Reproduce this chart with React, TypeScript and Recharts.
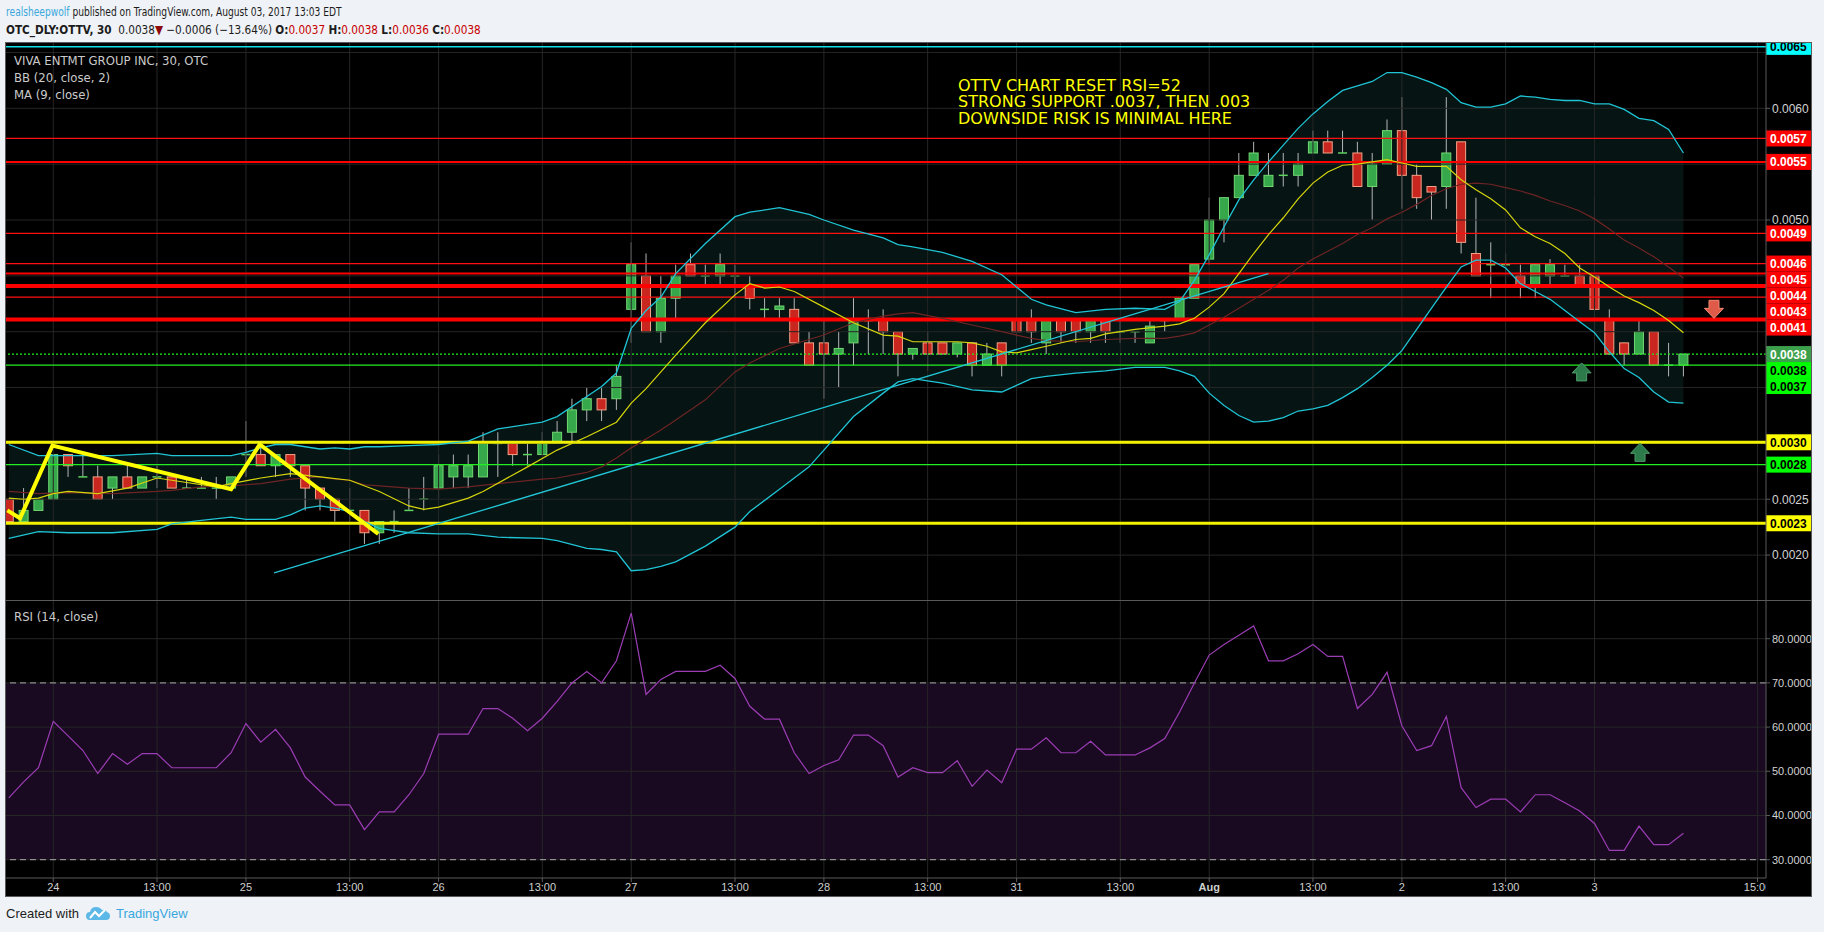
import React from 'react'
import {
  ComposedChart, Bar, Line, Area, XAxis, YAxis,
  ReferenceLine, ReferenceArea, ReferenceDot,
} from 'recharts'

// 30 min bars, Jul 21 14:30 .. Aug 3 12:30 (bar index = position on the time axis)
const opens = [
  0.0025, 0.0023, 0.0024, 0.0025, 0.0029, 0.0027, 0.0027, 0.0026, 0.0027, 0.0026,
  0.0027, 0.0027, 0.0026, 0.0026, 0.0026, 0.0026, 0.0029, 0.0029, 0.0028, 0.0029,
  0.0028, 0.0026, 0.0025, 0.0024, 0.0024, 0.0022, 0.0023, 0.0024, 0.0025, 0.0026,
  0.0027, 0.0027, 0.0027, 0.0030, 0.0030, 0.0029, 0.0029, 0.0030, 0.0031, 0.0033,
  0.0034, 0.0034, 0.0042, 0.0045, 0.0040, 0.0043, 0.0046, 0.0045, 0.0045, 0.0045,
  0.0044, 0.0042, 0.0042, 0.0042, 0.0039, 0.0039, 0.0038, 0.0039, 0.0041, 0.0041,
  0.0040, 0.0038, 0.0039, 0.0039, 0.0038, 0.0039, 0.0037, 0.0039, 0.0041, 0.0041,
  0.0039, 0.0041, 0.0041, 0.0040, 0.0041, 0.0040, 0.0040, 0.0039, 0.0041, 0.0041,
  0.0043, 0.00465, 0.0050, 0.0052, 0.0054, 0.0053, 0.0054, 0.0054, 0.0056, 0.0057,
  0.0056, 0.0056, 0.0053, 0.0055, 0.0058, 0.0054, 0.0053, 0.0053, 0.0057, 0.0047,
  0.0046, 0.0046, 0.0045, 0.0044, 0.0045, 0.0045, 0.0045, 0.0045, 0.0041, 0.0039,
  0.0038, 0.0040, 0.0037, 0.0037,
]
const highs = [
  0.0025, 0.0026, 0.0025, 0.0029, 0.0029, 0.0029, 0.0028, 0.0027, 0.0028, 0.0027,
  0.0028, 0.0027, 0.0027, 0.0027, 0.0027, 0.0027, 0.0032, 0.0030, 0.0029, 0.0029,
  0.0028, 0.0026, 0.0025, 0.0026, 0.0024, 0.0023, 0.0024, 0.0026, 0.0027, 0.0029,
  0.0029, 0.0029, 0.0031, 0.0031, 0.0030, 0.0030, 0.0031, 0.0032, 0.0034, 0.0035,
  0.0035, 0.0037, 0.0048, 0.0047, 0.0045, 0.0046, 0.0047, 0.0046, 0.0047, 0.0046,
  0.0045, 0.0043, 0.0043, 0.0043, 0.0040, 0.0041, 0.0040, 0.0043, 0.0042, 0.0042,
  0.0040, 0.00385, 0.0040, 0.0039, 0.0039, 0.0039, 0.0039, 0.0039, 0.0044, 0.0042,
  0.0041, 0.0041, 0.0041, 0.0041, 0.0041, 0.0041, 0.0040, 0.0041, 0.0041, 0.0043,
  0.0046, 0.0052, 0.0052, 0.0056, 0.0057, 0.0056, 0.0056, 0.0056, 0.0058, 0.0058,
  0.0058, 0.0057, 0.0056, 0.0059, 0.0061, 0.0055, 0.0053, 0.0061, 0.0057, 0.0052,
  0.0048, 0.0047, 0.0046, 0.0046, 0.00465, 0.0046, 0.0046, 0.0052, 0.0042, 0.0039,
  0.0041, 0.0040, 0.0039, 0.0038,
]
const lows = [
  0.0023, 0.0023, 0.0024, 0.0025, 0.0027, 0.0027, 0.0025, 0.0025, 0.0026, 0.0026,
  0.0026, 0.0026, 0.0026, 0.0026, 0.0025, 0.0026, 0.0027, 0.0028, 0.0027, 0.0027,
  0.0024, 0.0024, 0.0023, 0.0023, 0.0021, 0.0021, 0.0022, 0.0024, 0.0024, 0.0025,
  0.0026, 0.0026, 0.0027, 0.0027, 0.0028, 0.0028, 0.0029, 0.0030, 0.0030, 0.0032,
  0.0032, 0.0033, 0.0039, 0.0040, 0.0039, 0.0041, 0.0045, 0.0044, 0.0044, 0.0043,
  0.0042, 0.0041, 0.0041, 0.0039, 0.0037, 0.0034, 0.0035, 0.0037, 0.0038, 0.0038,
  0.0036, 0.00375, 0.00365, 0.0038, 0.00377, 0.0036, 0.0037, 0.0036, 0.0039, 0.0039,
  0.0038, 0.0039, 0.0039, 0.0039, 0.0039, 0.0039, 0.0039, 0.0039, 0.0040, 0.0041,
  0.0043, 0.0046, 0.0048, 0.0052, 0.0054, 0.0053, 0.0053, 0.0053, 0.0056, 0.0056,
  0.0056, 0.0053, 0.0050, 0.0055, 0.0051, 0.0051, 0.0050, 0.0051, 0.0047, 0.0045,
  0.0043, 0.0044, 0.0043, 0.0043, 0.0044, 0.0045, 0.0044, 0.0038, 0.0038, 0.0037,
  0.0038, 0.0037, 0.0036, 0.0036,
]
const closes = [
  0.0023, 0.0024, 0.0025, 0.0029, 0.0028, 0.0027, 0.0025, 0.0027, 0.0026, 0.0027,
  0.0027, 0.0026, 0.0026, 0.0026, 0.0026, 0.0027, 0.0029, 0.0028, 0.0029, 0.0028,
  0.0026, 0.0025, 0.0024, 0.0024, 0.0022, 0.0023, 0.0023, 0.0024, 0.0025, 0.0028,
  0.0028, 0.0028, 0.0030, 0.0030, 0.0029, 0.0029, 0.0030, 0.0031, 0.0033, 0.0034,
  0.0033, 0.0036, 0.0046, 0.0040, 0.0043, 0.0045, 0.0045, 0.0045, 0.0046, 0.0045,
  0.0043, 0.0042, 0.00423, 0.0039, 0.0037, 0.0038, 0.00385, 0.0041, 0.0041, 0.0040,
  0.0038, 0.00385, 0.0038, 0.0038, 0.0039, 0.0037, 0.0038, 0.0037, 0.0040, 0.0040,
  0.0041, 0.0040, 0.0040, 0.0041, 0.0040, 0.0040, 0.0040, 0.00405, 0.0041, 0.0043,
  0.0046, 0.0050, 0.0052, 0.0054, 0.0056, 0.0054, 0.0054, 0.0055, 0.0057, 0.0056,
  0.0056, 0.0053, 0.0055, 0.0058, 0.0054, 0.0052, 0.00525, 0.0056, 0.0048, 0.0045,
  0.0046, 0.0046, 0.0044, 0.0046, 0.0046, 0.0045, 0.0044, 0.0042, 0.0038, 0.0038,
  0.0040, 0.0037, 0.0037, 0.0038,
]

// RSI (14, close), one value per bar
const rsiValues = [
  44, 47.6, 50.8, 61.3, 58, 54.7, 49.5, 54, 51.6, 54,
  54, 50.8, 50.8, 50.8, 50.8, 54.2, 60.8, 56.6, 59.5, 55.3,
  48.7, 45.5, 42.4, 42.4, 36.8, 40.8, 40.8, 44.7, 49.5, 58.4,
  58.4, 58.4, 64.2, 64.2, 62, 59.2, 62, 65.8, 70, 72.6,
  70, 75, 85.8, 67.4, 70.8, 72.6, 72.6, 72.6, 74, 71,
  64.7, 61.8, 61.8, 54.2, 49.5, 51.3, 52.6, 58.2, 58.2, 55.8,
  48.7, 50.8, 49.7, 49.7, 52.4, 46.6, 50.3, 47.4, 55, 55,
  57.6, 54.2, 54.2, 56.8, 53.7, 53.7, 53.7, 55.3, 57.4, 63.4,
  70, 76.3, 78.7, 80.8, 82.9, 75, 75, 76.6, 78.7, 76,
  76, 64.2, 67.4, 72.4, 60.3, 54.7, 55.8, 62.4, 46.3, 41.8,
  43.7, 43.7, 40.8, 44.7, 44.7, 42.9, 41, 38.2, 32.1, 32.1,
  37.6, 33.4, 33.4, 36,
]

// BB (20, close, 2), read at these bars
const bbBars = [
  0, 2, 4, 7, 10, 11, 13, 15, 16, 17, 18, 19, 20, 21, 22, 23, 24, 25, 27, 29,
  31, 33, 36, 37, 39, 40, 41, 42, 43, 44, 45, 47, 49, 50, 52, 54, 55, 57, 59, 60,
  61, 63, 65, 67, 68, 69, 70, 72, 74, 76, 78, 79,
  80, 81, 82, 83, 84, 85, 86, 87, 88, 89, 90, 91, 92, 93, 94, 95, 96, 97, 98, 99,
  100, 101, 102, 103, 104, 105, 106, 107, 108, 109, 110, 111, 112, 113,
]
const bbUpper = [
  0.00299, 0.00289, 0.00289, 0.00289, 0.00291, 0.00289, 0.00289, 0.00289, 0.00292, 0.00296,
  0.00299, 0.00299, 0.00297, 0.00295, 0.00296, 0.00295, 0.00297, 0.00297, 0.00298, 0.00299,
  0.00302, 0.00313, 0.00319, 0.00324, 0.00342, 0.00351, 0.00363, 0.00403, 0.00419, 0.00431,
  0.00452, 0.00479, 0.00503, 0.00507, 0.00511, 0.00505, 0.00500, 0.00491, 0.00484, 0.00478,
  0.00476, 0.00471, 0.00463, 0.00451, 0.00440, 0.00429, 0.00424, 0.00417, 0.00420, 0.00421,
  0.00420, 0.00427,
  0.00446, 0.00469, 0.00494, 0.00518, 0.00536, 0.00552, 0.00567, 0.00582, 0.00595, 0.00606,
  0.00616, 0.00620, 0.00624, 0.00632, 0.00632, 0.00628, 0.00623, 0.00617, 0.00605, 0.00601,
  0.00601, 0.00604, 0.00611, 0.00610, 0.00608, 0.00607, 0.00607, 0.00604, 0.00604, 0.00599,
  0.00591, 0.00589, 0.00581, 0.00560,
]
const bbLower = [
  0.00215, 0.00221, 0.00220, 0.00220, 0.00223, 0.00228, 0.00231, 0.00234, 0.00232, 0.00232,
  0.00232, 0.00236, 0.00242, 0.00244, 0.00242, 0.00239, 0.00230, 0.00224, 0.00220, 0.00219,
  0.00219, 0.00216, 0.00215, 0.00213, 0.00206, 0.00205, 0.00203, 0.00186, 0.00187, 0.00190,
  0.00194, 0.00208, 0.00225, 0.00239, 0.00259, 0.00279, 0.00294, 0.00324, 0.00345, 0.00355,
  0.00358, 0.00354, 0.00348, 0.00346, 0.00352, 0.00358, 0.00360, 0.00363, 0.00365, 0.00368,
  0.00368, 0.00365,
  0.00360, 0.00345, 0.00334, 0.00325, 0.00319, 0.00320, 0.00323, 0.00329, 0.00331, 0.00334,
  0.00341, 0.00349, 0.00359, 0.00370, 0.00383, 0.00402, 0.00421, 0.00440, 0.00458, 0.00464,
  0.00464, 0.00457, 0.00443, 0.00436, 0.00429, 0.00419, 0.00409, 0.00399, 0.00382, 0.00367,
  0.00359, 0.00346, 0.00337, 0.00336,
]
const bbBasis = [
  0.00257, 0.00255, 0.00256, 0.00255, 0.00257, 0.00258, 0.00261, 0.00262, 0.00263, 0.00264,
  0.00266, 0.00268, 0.00269, 0.00270, 0.00268, 0.00267, 0.00263, 0.00262, 0.00260, 0.00259,
  0.00261, 0.00264, 0.00268, 0.00269, 0.00274, 0.00279, 0.00287, 0.00296, 0.00304, 0.00312,
  0.00321, 0.00339, 0.00364, 0.00372, 0.00385, 0.00393, 0.00397, 0.00408, 0.00414, 0.00416,
  0.00417, 0.00412, 0.00406, 0.00400, 0.00397, 0.00394, 0.00392, 0.00391, 0.00393, 0.00394,
  0.00394, 0.00396,
  0.00399, 0.00406, 0.00413, 0.00421, 0.00429, 0.00437, 0.00446, 0.00457, 0.00465, 0.00472,
  0.00479, 0.00487, 0.00493, 0.00501, 0.00507, 0.00514, 0.00522, 0.00528, 0.00532, 0.00533,
  0.00532, 0.00529, 0.00526, 0.00522, 0.00517, 0.00513, 0.00508, 0.00501, 0.00492, 0.00482,
  0.00475, 0.00467, 0.00458, 0.00448,
]

// MA (9, close)
const maBars = [
  0, 1, 2, 3, 4, 6, 8, 10, 12, 14, 15, 17, 19, 21, 23, 25, 27, 28, 29, 31,
  32, 35, 37, 39, 41, 42, 43, 45, 47, 49, 50, 51, 52, 53, 55, 57, 59, 60, 61, 64,
  65, 66, 67, 68, 69, 70, 72, 73, 74, 76, 78, 79,
  80, 81, 82, 83, 84, 85, 86, 87, 88, 89, 90, 91, 92, 93, 94, 95,
  97, 98, 99, 100, 101, 102, 103, 104, 105, 106, 107, 108, 109, 110, 111, 112, 113,
]
const maValues = [
  0.00251, 0.00250, 0.00251, 0.00255, 0.00257, 0.00255, 0.00260, 0.00269, 0.00265, 0.00261,
  0.00264, 0.00269, 0.00273, 0.00270, 0.00267, 0.00257, 0.00244, 0.00241, 0.00243, 0.00251,
  0.00257, 0.00279, 0.00294, 0.00306, 0.00319, 0.00336, 0.00349, 0.00379, 0.00408, 0.00433,
  0.00443, 0.00439, 0.00440, 0.00436, 0.00422, 0.00408, 0.00397, 0.00396, 0.00391, 0.00391,
  0.00390, 0.00387, 0.00382, 0.00381, 0.00384, 0.00387, 0.00393, 0.00394, 0.00398, 0.00402,
  0.00405, 0.00407,
  0.00412, 0.00422, 0.00434, 0.00452, 0.00470, 0.00487, 0.00502, 0.00519, 0.00533, 0.00543,
  0.00549, 0.00550, 0.00552, 0.00554, 0.00551, 0.00548,
  0.00548, 0.00536, 0.00527, 0.00519, 0.00509, 0.00493, 0.00485, 0.00479, 0.00470, 0.00457,
  0.00449, 0.00440, 0.00432, 0.00426, 0.00419, 0.00410, 0.00399,
]

// drawings on the chart
const trendBars = [17.9, 85]
const trendPrices = [0.00184, 0.00452]
const zigBars = [-0.1, 0.76, 2.94, 15.0, 16.93, 24.93]
const zigPrices = [0.0024, 0.00233, 0.00298, 0.00259, 0.00299, 0.00219]
const arrowBars = [115.06, 106.13, 110.07]
const arrowPrices = [0.0042, 0.00364, 0.00292]
const arrowDirs = ['down', 'up', 'up']
const noteBar = 64.05
const notePrice = 0.006155
const noteLines = ['OTTV CHART RESET RSI=52', 'STRONG SUPPORT .0037, THEN .003', 'DOWNSIDE RISK IS MINIMAL HERE']

// horizontal levels with their price tags
const levelPrices = [0.00655, 0.00573, 0.00552, 0.00488, 0.00461, 0.00452, 0.00441, 0.00431, 0.00411, 0.0038, 0.0038, 0.0037, 0.00301, 0.00281, 0.002285]
const levelLabels = ['0.0065', '0.0057', '0.0055', '0.0049', '0.0046', '0.0045', '0.0044', '0.0043', '0.0041', '0.0038', '0.0038', '0.0037', '0.0030', '0.0028', '0.0023']
const levelKinds = ['cyan', 'red', 'red2', 'red', 'red', 'red2', 'redBold', 'red', 'redBold', 'last', 'greenTag', 'green', 'yellow', 'green', 'yellow']

const priceGrid = [0.002, 0.0025, 0.003, 0.0035, 0.004, 0.0045, 0.005, 0.0055, 0.006, 0.0065]
const priceTicks = [0.002, 0.0025, 0.005, 0.006]
const rsiTicks = [30, 40, 50, 60, 70, 80]
const xTickBars = [3, 10, 16, 23, 29, 36, 42, 49, 55, 62, 68, 75, 81, 88, 94, 101, 107, 118]
const xTickLabels = ['24', '13:00', '25', '13:00', '26', '13:00', '27', '13:00', '28', '13:00', '31', '13:00', 'Aug', '13:00', '2', '13:00', '3', '15:00']

const KIND: Record<string, any> = {
  cyan: { stroke: '#10dfea', w: 1.5, bg: '#00ffff', fg: '#000' },
  red: { stroke: '#ff1010', w: 1.3, bg: '#ff0000', fg: '#fff' },
  red2: { stroke: '#ff0000', w: 2, bg: '#ff0000', fg: '#fff' },
  redBold: { stroke: '#ff0000', w: 4, bg: '#ff0000', fg: '#fff' },
  last: { stroke: '#22ee22', w: 1.3, dash: '2 2', bg: '#3c9f4b', fg: '#fff' },
  greenTag: { stroke: 'none', w: 0, bg: '#00ff00', fg: '#000' },
  green: { stroke: '#22ee22', w: 1.3, bg: '#00ff00', fg: '#000' },
  yellow: { stroke: '#f2f200', w: 3, bg: '#ffff00', fg: '#000' },
}

const CHART_W = 1805
const MAIN_H = 557
const RSI_H = 295
const AXIS_W = 45
const XAXIS_H = 18
const BODY_W = 9
const XMIN = -0.19
const XMAX = 118.57
const PMIN = 0.001598
const PMAX = 0.0065846
const RMIN = 25.86
const RMAX = 88.53
const GRID = '#262626'
const NARROW = '"Liberation Sans Narrow", "DejaVu Sans Condensed", "Liberation Sans", sans-serif'
const ARIAL = '"Liberation Sans", Arial, sans-serif'

const candles = opens.map((o, k) => ({ i: k, o, h: highs[k], l: lows[k], c: closes[k] }))
const rsiData = rsiValues.map((v, k) => ({ i: k, v }))
const bbData = bbBars.map((b, k) => ({ i: b, up: bbUpper[k], lo: bbLower[k], mid: bbBasis[k] }))
const maData = maBars.map((b, k) => ({ i: b, v: maValues[k] }))
const trendData = trendBars.map((b, k) => ({ i: b, v: trendPrices[k] }))
const zigData = zigBars.map((b, k) => ({ i: b, v: zigPrices[k] }))

// price tags stack downwards when they would overlap (like the original axis)
const tagShift = (() => {
  const toPx = (p: number) => ((PMAX - p) / (PMAX - PMIN)) * MAIN_H
  const order = levelPrices.map((_, k) => k).sort((a, b) => levelPrices[b] - levelPrices[a] || a - b)
  const out = levelPrices.map(() => 0)
  let last = -Infinity
  for (const k of order) {
    const nat = toPx(levelPrices[k])
    const pos = Math.max(nat, last + 16)
    out[k] = pos - nat
    last = pos
  }
  return out
})()

function Candle(props: any) {
  const { x, y, width, height, payload } = props
  if (x == null || !payload) return null
  const { o, h, l, c } = payload
  const top = Math.min(y, y + height)
  const bottom = Math.max(y, y + height)
  const span = h - l
  const px = (v: number) => (span > 0 ? top + ((h - v) / span) * (bottom - top) : top)
  const up = c >= o
  const bTop = px(Math.max(o, c))
  const bBot = px(Math.min(o, c))
  const mid = x + (width || 0) / 2
  const left = mid - BODY_W / 2
  return (
    <g>
      <line x1={mid} x2={mid} y1={top} y2={bottom} stroke="#b5b5b5" strokeWidth={1} />
      {bBot - bTop < 1.5 ? (
        <line x1={left} x2={left + BODY_W} y1={bTop} y2={bTop} stroke={up ? '#5fd35f' : '#f39b7f'} strokeWidth={1.5} />
      ) : (
        <rect x={left} y={bTop} width={BODY_W} height={bBot - bTop}
          fill={up ? '#36a74b' : '#c9261f'} stroke={up ? '#72d872' : '#f4a388'} strokeWidth={1} />
      )}
    </g>
  )
}

function PriceTag(props: any) {
  const { viewBox, text, bg, fg, shift } = props
  if (!viewBox) return null
  const x = viewBox.x + viewBox.width
  const y = viewBox.y + shift
  return (
    <g>
      <rect x={x} y={y - 8} width={AXIS_W} height={16} fill={bg} />
      <text x={x + 4} y={y + 4.5} fill={fg} fontSize={12} fontWeight="bold" fontFamily={ARIAL}>{text}</text>
    </g>
  )
}

function Arrow(props: any) {
  const { cx, cy, dir } = props
  const s = dir === 'down' ? 1 : -1
  const pts = [[-5, -9], [5, -9], [5, -1], [9.5, -1], [0, 9], [-9.5, -1], [-5, -1]]
    .map(([dx, dy]) => `${cx + dx},${cy + s * dy}`).join(' ')
  return dir === 'down'
    ? <polygon points={pts} fill="#df5a48" stroke="#f08a72" strokeWidth={1} />
    : <polygon points={pts} fill="#2d7a4b" stroke="#4f9d6c" strokeWidth={1} />
}

function Note(props: any) {
  const { cx, cy } = props
  return (
    <g>
      {noteLines.map((t, k) => (
        <text key={k} x={cx} y={cy + k * 16.3} fill="#ffff00" fontSize={16} fontFamily='"DejaVu Sans", sans-serif'>{t}</text>
      ))}
    </g>
  )
}

function XTick(props: any) {
  const { x, y, payload } = props
  const k = xTickBars.indexOf(payload.value)
  const label = xTickLabels[k] ?? ''
  const last = k === xTickBars.length - 1
  return (
    <g>
      {last && (
        <defs>
          <clipPath id="xclip"><rect x={0} y={0} width={CHART_W - AXIS_W} height={RSI_H} /></clipPath>
        </defs>
      )}
      <text x={x} y={y} dy="0.6em" textAnchor="middle" fill="#cfcfcf" fontSize={11}
        fontWeight={label === 'Aug' ? 'bold' : 'normal'} fontFamily={ARIAL}
        clipPath={last ? 'url(#xclip)' : undefined}>{label}</text>
    </g>
  )
}

const axisTick = { fill: '#d2d2d2', fontSize: 12, fontFamily: ARIAL }

export default function App() {
  return (
    <div style={{ position: 'absolute', left: 0, top: 0, width: 1824, height: 932, background: '#eff2f6', overflow: 'hidden', fontFamily: NARROW }}>
      <div style={{ position: 'absolute', left: 6, top: 4, fontSize: 12.5, color: '#1c1c1c', whiteSpace: 'nowrap', transform: 'scaleX(0.81)', transformOrigin: '0 0' }}>
        <span style={{ color: '#3aa8de' }}>realsheepwolf</span> published on TradingView.com, August 03, 2017 13:03 EDT
      </div>
      <div style={{ position: 'absolute', left: 6, top: 22, fontSize: 12.4, color: '#1c1c1c', whiteSpace: 'nowrap', transform: 'scaleX(0.94)', transformOrigin: '0 0' }}>
        <b>OTC_DLY:OTTV, 30</b>&nbsp; 0.0038<span style={{ color: '#8c0a0a' }}>▼</span> −0.0006 (−13.64%){' '}
        <b>O:</b><span style={{ color: '#c80000' }}>0.0037</span>{' '}
        <b>H:</b><span style={{ color: '#c80000' }}>0.0038</span>{' '}
        <b>L:</b><span style={{ color: '#c80000' }}>0.0036</span>{' '}
        <b>C:</b><span style={{ color: '#c80000' }}>0.0038</span>
      </div>

      <div style={{ position: 'absolute', left: 5, top: 42, width: 1807, height: MAIN_H + RSI_H + 3, boxSizing: 'border-box', border: '1px solid #5a5a5a', background: '#000' }}>
        <div style={{ position: 'relative', width: CHART_W, height: MAIN_H }}>
          <ComposedChart width={CHART_W} height={MAIN_H} data={candles} margin={{ top: 0, right: 0, bottom: 0, left: 0 }}>
            <XAxis type="number" dataKey="i" domain={[XMIN, XMAX]} allowDataOverflow hide />
            <YAxis orientation="right" domain={[PMIN, PMAX]} allowDataOverflow ticks={priceTicks} interval={0}
              width={AXIS_W} tick={axisTick} tickSize={4} tickFormatter={(v: number) => v.toFixed(4)}
              axisLine={{ stroke: '#5a5a5a' }} tickLine={{ stroke: '#5a5a5a' }} />
            {priceGrid.map((p) => <ReferenceLine key={'gy' + p} y={p} stroke={GRID} strokeWidth={1} />)}
            {xTickBars.map((b) => <ReferenceLine key={'gx' + b} x={b} stroke={GRID} strokeWidth={1} />)}
            <Area data={bbData} dataKey={(d: any) => [d.lo, d.up]} type="linear" stroke="none" fill="#061414" fillOpacity={1} isAnimationActive={false} />
            <Bar dataKey={(d: any) => [d.l, d.h]} barSize={BODY_W} shape={(p: any) => <Candle {...p} />} isAnimationActive={false} />
            {levelPrices.map((p, k) => {
              const st = KIND[levelKinds[k]]
              return (
                <ReferenceLine key={'lv' + k} y={p} stroke={st.stroke} strokeWidth={st.w} strokeDasharray={st.dash}
                  label={<PriceTag text={levelLabels[k]} bg={st.bg} fg={st.fg} shift={tagShift[k]} />} />
              )
            })}
            <Line data={bbData} dataKey="mid" type="linear" stroke="#6e2424" strokeWidth={1.2} dot={false} activeDot={false} isAnimationActive={false} />
            <Line data={bbData} dataKey="up" type="linear" stroke="#20c4d4" strokeWidth={1.3} dot={false} activeDot={false} isAnimationActive={false} />
            <Line data={bbData} dataKey="lo" type="linear" stroke="#20c4d4" strokeWidth={1.3} dot={false} activeDot={false} isAnimationActive={false} />
            <Line data={maData} dataKey="v" type="linear" stroke="#d6d60c" strokeWidth={1.2} dot={false} activeDot={false} isAnimationActive={false} />
            <Line data={trendData} dataKey="v" type="linear" stroke="#22c6d6" strokeWidth={1.3} dot={false} activeDot={false} isAnimationActive={false} />
            <Line data={zigData} dataKey="v" type="linear" stroke="#ffff00" strokeWidth={4} dot={false} activeDot={false} isAnimationActive={false} />
            {arrowBars.map((b, k) => (
              <ReferenceDot key={'ar' + k} x={b} y={arrowPrices[k]} r={0} shape={(p: any) => <Arrow {...p} dir={arrowDirs[k]} />} />
            ))}
            <ReferenceDot x={noteBar} y={notePrice} r={0} shape={(p: any) => <Note {...p} />} />
          </ComposedChart>
          <div style={{ position: 'absolute', left: 8, top: 9, color: '#cacaca', fontSize: 13, lineHeight: '17px', whiteSpace: 'nowrap' }}>
            <div>VIVA ENTMT GROUP INC, 30, OTC</div>
            <div>BB (20, close, 2)</div>
            <div>MA (9, close)</div>
          </div>
        </div>

        <div style={{ position: 'relative', width: CHART_W, height: RSI_H + 1, borderTop: '1px solid #5a5a5a', boxSizing: 'border-box' }}>
          <ComposedChart width={CHART_W} height={RSI_H} data={rsiData} margin={{ top: 0, right: 0, bottom: 0, left: 0 }}>
            <XAxis type="number" dataKey="i" domain={[XMIN, XMAX]} allowDataOverflow ticks={xTickBars} interval={0}
              height={XAXIS_H} tick={(p: any) => <XTick {...p} />} tickSize={4}
              axisLine={{ stroke: '#5a5a5a' }} tickLine={{ stroke: '#5a5a5a' }} />
            <YAxis orientation="right" domain={[RMIN, RMAX]} allowDataOverflow ticks={rsiTicks} interval={0}
              width={AXIS_W} tick={{ ...axisTick, fontSize: 11 }} tickSize={4} tickFormatter={(v: number) => v.toFixed(4)}
              axisLine={{ stroke: '#5a5a5a' }} tickLine={{ stroke: '#5a5a5a' }} />
            <ReferenceArea y1={30} y2={70} fill="#190a21" fillOpacity={1} stroke="none" />
            {rsiTicks.map((t) => <ReferenceLine key={'ry' + t} y={t} stroke={GRID} strokeWidth={1} />)}
            {xTickBars.map((b) => <ReferenceLine key={'rx' + b} x={b} stroke={GRID} strokeWidth={1} />)}
            <ReferenceLine y={70} stroke="#a8a8a8" strokeDasharray="6 4" />
            <ReferenceLine y={30} stroke="#a8a8a8" strokeDasharray="6 4" />
            <Line dataKey="v" type="linear" stroke="#9b3db4" strokeWidth={1.2} dot={false} activeDot={false} isAnimationActive={false} />
          </ComposedChart>
          <div style={{ position: 'absolute', left: 8, top: 8, color: '#cacaca', fontSize: 13, whiteSpace: 'nowrap' }}>RSI (14, close)</div>
        </div>
      </div>

      <div style={{ position: 'absolute', left: 6, top: 904, height: 18, display: 'flex', alignItems: 'center', fontSize: 13, whiteSpace: 'nowrap' }}>
        <span style={{ color: '#1c1c1c', fontFamily: ARIAL }}>Created with</span>
        <svg width={24} height={16} viewBox="0 0 24 16" style={{ margin: '0 6px 0 7px' }}>
          <path d="M4 15 Q0 15 0 11 Q0 7 4 7 Q5 2 10 2 Q14 2 16 5 Q19 4 21 7 Q24 8 24 11 Q24 15 20 15 Z" fill="#5cb8e6" />
          <polyline points="4,13 9,7 13,11 19,5" stroke="#fff" strokeWidth={2} fill="none" />
        </svg>
        <span style={{ color: '#3aa8de', fontFamily: ARIAL }}>TradingView</span>
      </div>
    </div>
  )
}
